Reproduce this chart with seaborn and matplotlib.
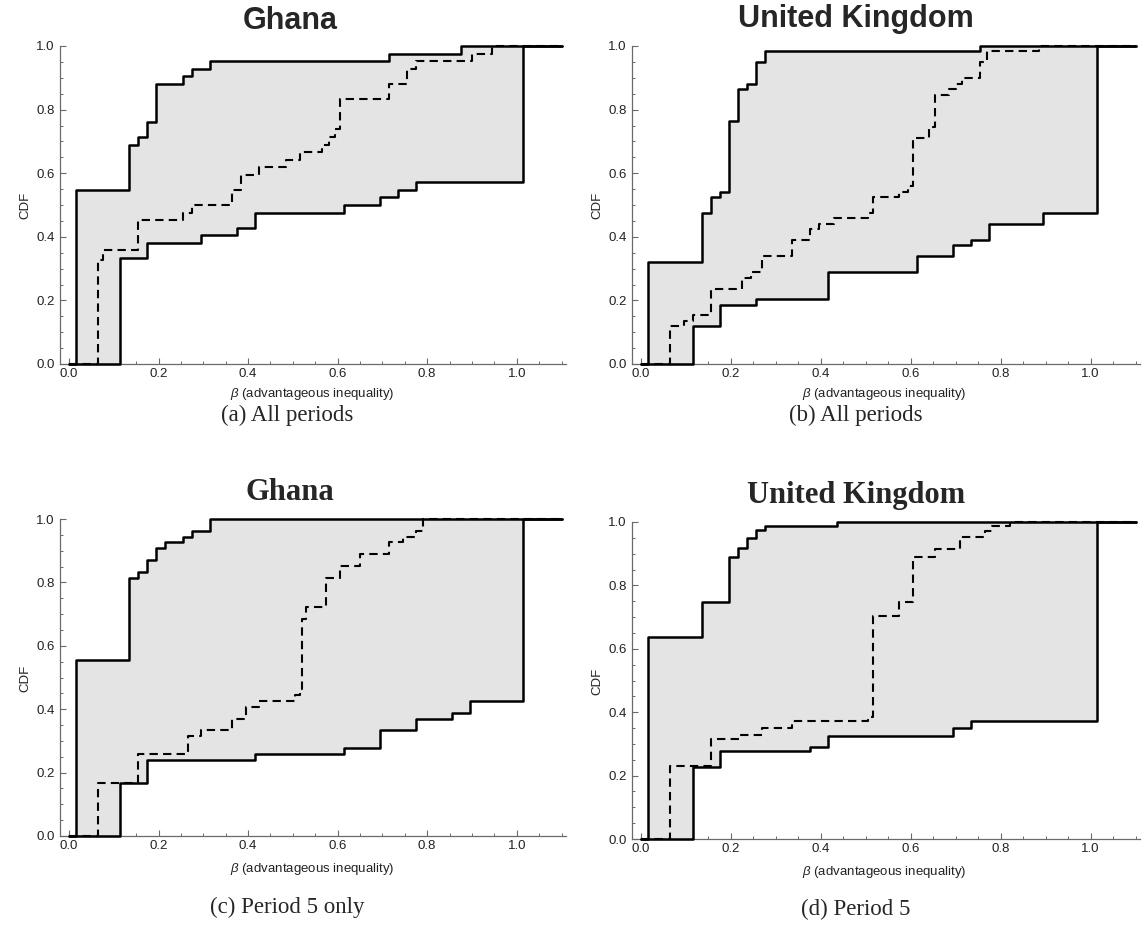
import numpy as np
import matplotlib
matplotlib.use("Agg")
import matplotlib.pyplot as plt
from matplotlib.ticker import MultipleLocator, FixedLocator
import seaborn as sns

sns.set_style("ticks")
plt.rcParams["font.family"] = ["Liberation Sans", "DejaVu Sans"]
plt.rcParams["mathtext.fontset"] = "custom"
plt.rcParams["mathtext.it"] = "Liberation Sans:italic"
plt.rcParams["mathtext.rm"] = "Liberation Sans"

# ---- step-function data: x = beta where the CDF steps, y = CDF value after the step ----
# (a) Ghana, all periods
a_up_x = [0.015, 0.135, 0.155, 0.175, 0.195, 0.255, 0.275, 0.315, 0.715, 0.875]
a_up_y = [0.548, 0.690, 0.714, 0.762, 0.881, 0.905, 0.929, 0.952, 0.976, 1.000]
a_lo_x = [0.115, 0.175, 0.295, 0.375, 0.415, 0.615, 0.695, 0.735, 0.775, 1.015]
a_lo_y = [0.333, 0.381, 0.405, 0.429, 0.476, 0.500, 0.524, 0.548, 0.571, 1.000]
a_md_x = [0.065, 0.075, 0.155, 0.255, 0.275, 0.365, 0.385, 0.425, 0.485, 0.515,
          0.565, 0.580, 0.595, 0.605, 0.715, 0.755, 0.775, 0.900, 0.945]
a_md_y = [0.326, 0.357, 0.452, 0.476, 0.500, 0.548, 0.595, 0.619, 0.643, 0.667,
          0.690, 0.714, 0.738, 0.833, 0.881, 0.929, 0.952, 0.976, 1.000]

# (b) United Kingdom, all periods
b_up_x = [0.015, 0.135, 0.155, 0.175, 0.195, 0.215, 0.235, 0.255, 0.275, 0.755]
b_up_y = [0.322, 0.475, 0.525, 0.542, 0.763, 0.864, 0.881, 0.949, 0.983, 1.000]
b_lo_x = [0.115, 0.175, 0.255, 0.415, 0.615, 0.695, 0.735, 0.775, 0.895, 1.015]
b_lo_y = [0.119, 0.186, 0.203, 0.288, 0.339, 0.373, 0.390, 0.441, 0.475, 1.000]
b_md_x = [0.065, 0.095, 0.115, 0.155, 0.225, 0.245, 0.270, 0.335, 0.375, 0.395,
          0.430, 0.505, 0.515, 0.575, 0.595, 0.605, 0.640, 0.655, 0.685, 0.700,
          0.715, 0.755, 0.770, 0.885]
b_md_y = [0.119, 0.136, 0.153, 0.237, 0.271, 0.288, 0.339, 0.390, 0.424, 0.441,
          0.458, 0.475, 0.525, 0.542, 0.559, 0.712, 0.746, 0.847, 0.864, 0.881,
          0.898, 0.949, 0.983, 1.000]

# (c) Ghana, period 5
c_up_x = [0.015, 0.135, 0.155, 0.175, 0.195, 0.215, 0.255, 0.275, 0.315]
c_up_y = [0.556, 0.815, 0.833, 0.870, 0.907, 0.926, 0.944, 0.963, 1.000]
c_lo_x = [0.115, 0.175, 0.415, 0.615, 0.695, 0.775, 0.855, 0.895, 1.015]
c_lo_y = [0.167, 0.241, 0.259, 0.278, 0.333, 0.370, 0.389, 0.426, 1.000]
c_md_x = [0.065, 0.155, 0.265, 0.295, 0.365, 0.395, 0.425, 0.505, 0.515, 0.520,
          0.530, 0.575, 0.605, 0.650, 0.715, 0.745, 0.775, 0.790]
c_md_y = [0.167, 0.259, 0.315, 0.333, 0.370, 0.407, 0.426, 0.444, 0.463, 0.685,
          0.722, 0.815, 0.852, 0.889, 0.926, 0.944, 0.963, 1.000]

# (d) United Kingdom, period 5
d_up_x = [0.015, 0.135, 0.195, 0.215, 0.235, 0.255, 0.275, 0.435]
d_up_y = [0.636, 0.747, 0.891, 0.917, 0.949, 0.976, 0.986, 1.000]
d_lo_x = [0.115, 0.175, 0.375, 0.415, 0.695, 0.735, 1.015]
d_lo_y = [0.228, 0.277, 0.291, 0.326, 0.351, 0.373, 1.000]
d_md_x = [0.065, 0.155, 0.220, 0.270, 0.335, 0.505, 0.515, 0.575, 0.605, 0.655,
          0.710, 0.765, 0.780, 0.820]
d_md_y = [0.231, 0.314, 0.328, 0.349, 0.373, 0.386, 0.702, 0.747, 0.891, 0.916,
          0.953, 0.972, 0.986, 1.000]

titles = ["Ghana", "United Kingdom", "Ghana", "United Kingdom"]
captions = ["(a) All periods", "(b) All periods", "(c) Period 5 only", "(d) Period 5"]
x_label = r"$\beta$ (advantageous inequality)"
y_label = "CDF"
x_ticks = [0.0, 0.2, 0.4, 0.6, 0.8, 1.0]
y_ticks = [0.0, 0.2, 0.4, 0.6, 0.8, 1.0]

X_END = 1.1
FILL = "#e4e4e4"
AXIS_GREY = "#6a6a6a"

W, H = 1145, 934
fig = plt.figure(figsize=(W / 100, H / 100), dpi=100)


def px_axes(left, top, right, bottom):
    return fig.add_axes([left / W, 1 - bottom / H, (right - left) / W, (bottom - top) / H])


def step_xy(xs, ys):
    return np.array([0.0] + list(xs) + [X_END]), np.array([0.0] + list(ys) + [ys[-1]])


def eval_step(xs, ys, grid):
    sx, sy = step_xy(xs, ys)
    idx = np.searchsorted(sx, grid, side="right") - 1
    return sy[np.clip(idx, 0, len(sy) - 1)]


panels = [
    (a_up_x, a_up_y, a_lo_x, a_lo_y, a_md_x, a_md_y),
    (b_up_x, b_up_y, b_lo_x, b_lo_y, b_md_x, b_md_y),
    (c_up_x, c_up_y, c_lo_x, c_lo_y, c_md_x, c_md_y),
    (d_up_x, d_up_y, d_lo_x, d_lo_y, d_md_x, d_md_y),
]

# pixel boxes: (left, top, right, bottom) of each plotting area
boxes = [(60, 46, 566, 364), (632, 46, 1140, 364), (60, 519, 566, 836), (632, 522, 1140, 839)]
title_pos = [(290, 21), (856, 19), (290, 492), (856, 495)]
title_family = ["Liberation Sans", "Liberation Sans", "Liberation Serif", "Liberation Serif"]
xlabel_pos = [(312, 394), (884, 394), (312, 869), (884, 872)]
ylabel_pos = [(25, 205), (597, 205), (25, 678), (597, 681)]
caption_pos = [(287, 415), (856, 415), (287, 907), (856, 909)]

for i, (ux, uy, lx, ly, mx, my) in enumerate(panels):
    ax = px_axes(*boxes[i])
    grid = np.unique(np.concatenate([[0.0], ux, lx, [X_END]]))
    up_g = eval_step(ux, uy, grid)
    lo_g = eval_step(lx, ly, grid)
    ax.fill_between(grid, lo_g, up_g, step="post", color=FILL, linewidth=0, zorder=1)

    for xs, ys, ls, lw in [(ux, uy, "-", 1.8), (lx, ly, "-", 1.8), (mx, my, "--", 1.5)]:
        sx, sy = step_xy(xs, ys)
        sns.lineplot(x=sx, y=sy, ax=ax, drawstyle="steps-post", color="black",
                     linewidth=lw, linestyle=ls, sort=False, estimator=None,
                     clip_on=False, zorder=3)
    for line in ax.get_lines()[-1:]:
        line.set_dashes((4.0, 2.5))

    ax.set_xlim(-0.02, 1.11)
    ax.set_ylim(0, 1.0)
    sns.despine(ax=ax)
    for s in ("left", "bottom"):
        ax.spines[s].set_color(AXIS_GREY)
        ax.spines[s].set_linewidth(0.9)
    ax.xaxis.set_major_locator(FixedLocator(x_ticks))
    ax.xaxis.set_minor_locator(MultipleLocator(0.05))
    ax.yaxis.set_major_locator(FixedLocator(y_ticks))
    ax.yaxis.set_minor_locator(MultipleLocator(0.05))
    ax.set_xticklabels([f"{t:.1f}" for t in x_ticks])
    ax.set_yticklabels([f"{t:.1f}" for t in y_ticks])
    ax.tick_params(which="major", direction="in", length=4.5, width=0.8,
                   color=AXIS_GREY, labelsize=9.5, labelcolor="#222222")
    ax.tick_params(axis="x", which="major", pad=3)
    ax.tick_params(axis="y", which="major", pad=4)
    ax.tick_params(which="minor", direction="in", length=2.5, width=0.7, color=AXIS_GREY)
    ax.set_xlabel("")
    ax.set_ylabel("")

    tx, ty = title_pos[i]
    fig.text(tx / W, 1 - ty / H, titles[i], ha="center", va="center",
             fontsize=22, fontweight="bold", family=title_family[i])
    lx_, ly_ = xlabel_pos[i]
    fig.text(lx_ / W, 1 - ly_ / H, x_label, ha="center", va="center",
             fontsize=9.5, color="#222222")
    yx, yy = ylabel_pos[i]
    fig.text(yx / W, 1 - yy / H, y_label, ha="center", va="center",
             fontsize=9.5, rotation=90, color="#222222")
    cx, cy = caption_pos[i]
    fig.text(cx / W, 1 - cy / H, captions[i], ha="center", va="center",
             fontsize=16.5, family="Liberation Serif")

fig.savefig("out.png", dpi=100)
